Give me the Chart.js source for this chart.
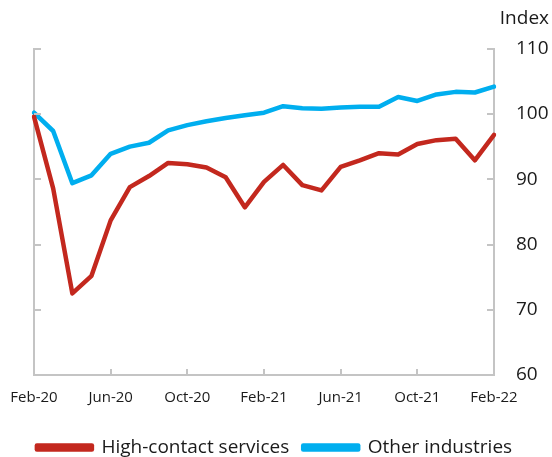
<!DOCTYPE html>
<html>
<head>
<meta charset="utf-8">
<script src="https://cdn.jsdelivr.net/npm/chart.js@4.4.1/dist/chart.umd.min.js"></script>
<style>
  html, body { margin: 0; padding: 0; background: #ffffff; }
  #wrap { width: 552px; height: 457px; position: relative; }
</style>
</head>
<body>
<div id="wrap"><canvas id="c" width="552" height="457"></canvas></div>
<script>
// Monthly index, Feb-2020 = 100
const months = [
  'Feb-20','Mar-20','Apr-20','May-20','Jun-20','Jul-20','Aug-20','Sep-20','Oct-20','Nov-20','Dec-20','Jan-21',
  'Feb-21','Mar-21','Apr-21','May-21','Jun-21','Jul-21','Aug-21','Sep-21','Oct-21','Nov-21','Dec-21','Jan-22','Feb-22'
];
const highContact = [
  99.6, 88.6, 72.5, 75.2, 83.7, 88.8, 90.5, 92.5, 92.3, 91.8, 90.3, 85.7,
  89.6, 92.2, 89.1, 88.3, 91.9, 92.9, 94.0, 93.8, 95.4, 96.0, 96.2, 92.9, 96.8
];
const otherIndustries = [
  100.2, 97.4, 89.4, 90.6, 93.9, 95.0, 95.6, 97.5, 98.3, 98.9, 99.4, 99.8,
  100.2, 101.2, 100.9, 100.8, 101.0, 101.1, 101.1, 102.6, 102.0, 103.0, 103.4, 103.3, 104.2
];
const yTicks = [60, 70, 80, 90, 100, 110];
const labelEvery = 4;

const FONT = "'Open Sans', 'Noto Sans', sans-serif";
const TEXT = '#1a1a1a';
const AXIS = '#c4c4c4';
const RED = '#c3281e';
const BLUE = '#00aeef';

// Short inward tick marks on the bottom, left and right axes
const innerTicks = {
  id: 'innerTicks',
  afterDatasetsDraw(chart) {
    const { ctx, chartArea: a, scales } = chart;
    ctx.save();
    ctx.strokeStyle = AXIS;
    ctx.lineWidth = 2;
    ctx.beginPath();
    months.forEach((m, i) => {
      if (i % labelEvery !== 0) return;
      const x = Math.round(scales.x.getPixelForValue(i));
      ctx.moveTo(x, a.bottom);
      ctx.lineTo(x, a.bottom - 6);
    });
    yTicks.forEach(v => {
      const y = Math.round(scales.y.getPixelForValue(v));
      ctx.moveTo(a.left, y); ctx.lineTo(a.left + 7, y);
      ctx.moveTo(a.right, y); ctx.lineTo(a.right - 7, y);
    });
    ctx.stroke();
    ctx.restore();
  }
};

new Chart(document.getElementById('c'), {
  type: 'line',
  data: {
    labels: months,
    datasets: [
      { label: 'High-contact services', data: highContact, borderColor: RED, backgroundColor: RED,
        borderWidth: 4.5, pointRadius: 0, tension: 0, borderJoinStyle: 'round', borderCapStyle: 'round' },
      { label: 'Other industries', data: otherIndustries, borderColor: BLUE, backgroundColor: BLUE,
        borderWidth: 4.5, pointRadius: 0, tension: 0, borderJoinStyle: 'round', borderCapStyle: 'round' }
    ]
  },
  options: {
    responsive: false,
    animation: false,
    devicePixelRatio: 1,
    layout: { padding: { left: 0, right: 3, top: 0, bottom: -10 } },
    plugins: {
      title: {
        display: true, text: 'Index', align: 'end', color: TEXT,
        font: { family: FONT, size: 19, weight: 'normal' }, padding: { top: 7, bottom: 19 }
      },
      legend: {
        position: 'bottom',
        labels: {
          color: TEXT, boxWidth: 55, boxHeight: 4, padding: 14,
          font: { family: FONT, size: 19 }
        }
      },
      tooltip: { enabled: false }
    },
    scales: {
      x: {
        offset: false,
        afterFit: s => { s.height = 49; s.paddingLeft = 0; s.paddingRight = 0; },
        grid: { display: false, drawTicks: false },
        border: { display: true, color: AXIS, width: 2 },
        ticks: {
          autoSkip: false, maxRotation: 0, padding: 14, color: TEXT,
          font: { family: FONT, size: 15 },
          callback: (v, i) => (i % labelEvery === 0 ? months[i] : '')
        }
      },
      yl: {
        position: 'left', min: 60, max: 110,
        afterFit: s => { s.width = 34; },
        grid: { display: false, drawTicks: false },
        border: { display: true, color: AXIS, width: 2 },
        ticks: { display: false }
      },
      y: {
        position: 'right', min: 60, max: 110,
        afterBuildTicks: s => { s.ticks = yTicks.map(v => ({ value: v })); },
        afterFit: s => { s.width = 55; },
        grid: { display: false, drawTicks: false },
        border: { display: true, color: AXIS, width: 2 },
        ticks: { padding: 22, color: TEXT, font: { family: FONT, size: 19 } }
      }
    }
  },
  plugins: [innerTicks]
});
</script>
</body>
</html>
